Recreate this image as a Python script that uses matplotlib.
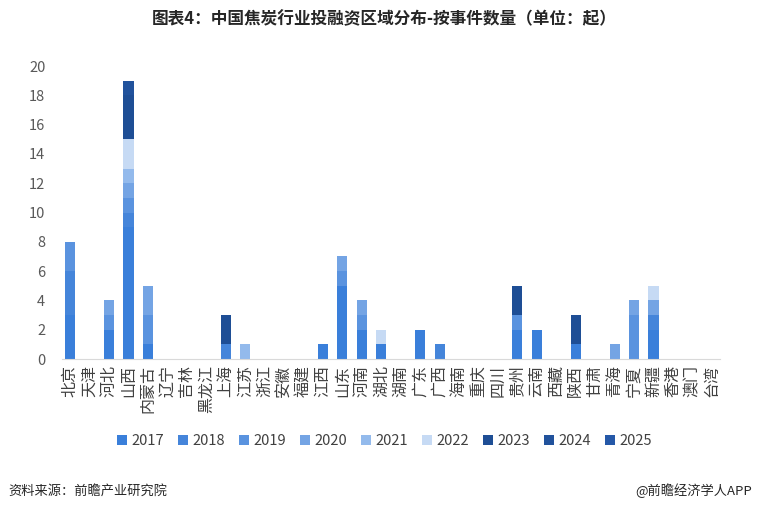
import numpy as np
import matplotlib as mpl
import matplotlib.pyplot as plt
from matplotlib.patches import Patch

mpl.rcParams['font.family'] = ['Noto Sans CJK SC', 'DejaVu Sans']

# Regions and yearly event counts
regions = ['北京', '天津', '河北', '山西', '内蒙古', '辽宁', '吉林', '黑龙江', '上海', '江苏',
           '浙江', '安徽', '福建', '江西', '山东', '河南', '湖北', '湖南', '广东', '广西',
           '海南', '重庆', '四川', '贵州', '云南', '西藏', '陕西', '甘肃', '青海', '宁夏',
           '新疆', '香港', '澳门', '台湾']
years = ['2017', '2018', '2019', '2020', '2021', '2022', '2023', '2024', '2025']

#          京 津 冀 晋 蒙 辽 吉 黑 沪 苏 浙 皖 闽 赣 鲁 豫 鄂 湘 粤 桂 琼 渝 川 贵 云 藏 陕 甘 青 宁 新 港 澳 台
y2017 = [3, 0, 2, 9, 1, 0, 0, 0, 0, 0, 0, 0, 0, 1, 5, 2, 1, 0, 2, 0, 0, 0, 0, 2, 2, 0, 1, 0, 0, 0, 2, 0, 0, 0]
y2018 = [3, 0, 0, 1, 0, 0, 0, 0, 1, 0, 0, 0, 0, 0, 0, 0, 0, 0, 0, 1, 0, 0, 0, 0, 0, 0, 0, 0, 0, 0, 1, 0, 0, 0]
y2019 = [2, 0, 1, 1, 2, 0, 0, 0, 0, 0, 0, 0, 0, 0, 1, 1, 0, 0, 0, 0, 0, 0, 0, 1, 0, 0, 0, 0, 0, 3, 0, 0, 0, 0]
y2020 = [0, 0, 1, 1, 2, 0, 0, 0, 0, 0, 0, 0, 0, 0, 1, 1, 0, 0, 0, 0, 0, 0, 0, 0, 0, 0, 0, 0, 1, 1, 1, 0, 0, 0]
y2021 = [0, 0, 0, 1, 0, 0, 0, 0, 0, 1, 0, 0, 0, 0, 0, 0, 0, 0, 0, 0, 0, 0, 0, 0, 0, 0, 0, 0, 0, 0, 0, 0, 0, 0]
y2022 = [0, 0, 0, 2, 0, 0, 0, 0, 0, 0, 0, 0, 0, 0, 0, 0, 1, 0, 0, 0, 0, 0, 0, 0, 0, 0, 0, 0, 0, 0, 1, 0, 0, 0]
y2023 = [0, 0, 0, 3, 0, 0, 0, 0, 2, 0, 0, 0, 0, 0, 0, 0, 0, 0, 0, 0, 0, 0, 0, 2, 0, 0, 2, 0, 0, 0, 0, 0, 0, 0]
y2024 = [0, 0, 0, 1, 0, 0, 0, 0, 0, 0, 0, 0, 0, 0, 0, 0, 0, 0, 0, 0, 0, 0, 0, 0, 0, 0, 0, 0, 0, 0, 0, 0, 0, 0]
y2025 = [0, 0, 0, 0, 0, 0, 0, 0, 0, 0, 0, 0, 0, 0, 0, 0, 0, 0, 0, 0, 0, 0, 0, 0, 0, 0, 0, 0, 0, 0, 0, 0, 0, 0]
series = [y2017, y2018, y2019, y2020, y2021, y2022, y2023, y2024, y2025]

colors = ['#3A7FDA', '#4585DA', '#5A93DF', '#74A4E4', '#93BAEC', '#C6DAF4',
          '#1E4E95', '#21529C', '#2558A8']

fig = plt.figure(figsize=(7.57, 5.11), dpi=100)
ax = fig.add_axes([62 / 757, 1 - 359 / 511, 658 / 757, 293 / 511])

x = np.arange(len(regions))
bottom = np.zeros(len(regions))
for values, color, year in zip(series, colors, years):
    values = np.array(values, dtype=float)
    ax.bar(x, values, width=0.52, bottom=bottom, color=color, label=year, linewidth=0)
    bottom += values

ax.set_xlim(-0.42, len(regions) - 0.58)
ax.set_ylim(0, 20)
ax.set_yticks(range(0, 21, 2))
ax.tick_params(axis='y', length=0, labelsize=10.5, labelcolor='#595959', pad=12)
ax.tick_params(axis='x', length=0, pad=4)
ax.set_xticks(x)
ax.set_xticklabels(regions, rotation=90, fontsize=11.5, color='#404040', va='top', ha='center')

for side in ['top', 'right', 'left']:
    ax.spines[side].set_visible(False)
ax.spines['bottom'].set_color('#D9D9D9')

handles = [Patch(facecolor=c, label=y) for c, y in zip(colors, years)]
fig.legend(handles=handles, loc='center', bbox_to_anchor=(0.508, 1 - 441 / 511), ncol=9,
           frameon=False, fontsize=10.5, handlelength=0.7, handleheight=0.7,
           handletextpad=0.3, columnspacing=0.95, labelcolor='#404040')

fig.text(0.508, 1 - 19 / 511, '图表4：中国焦炭行业投融资区域分布-按事件数量（单位：起）',
         ha='center', va='center', fontsize=12, fontweight='bold', color='#262626')
fig.text(8 / 757, 1 - 491 / 511, '资料来源：前瞻产业研究院', ha='left', va='center',
         fontsize=9.5, color='#262626')
fig.text(752 / 757, 1 - 491 / 511, '@前瞻经济学人APP', ha='right', va='center',
         fontsize=9.5, color='#262626')

fig.savefig('out.png', dpi=100)
